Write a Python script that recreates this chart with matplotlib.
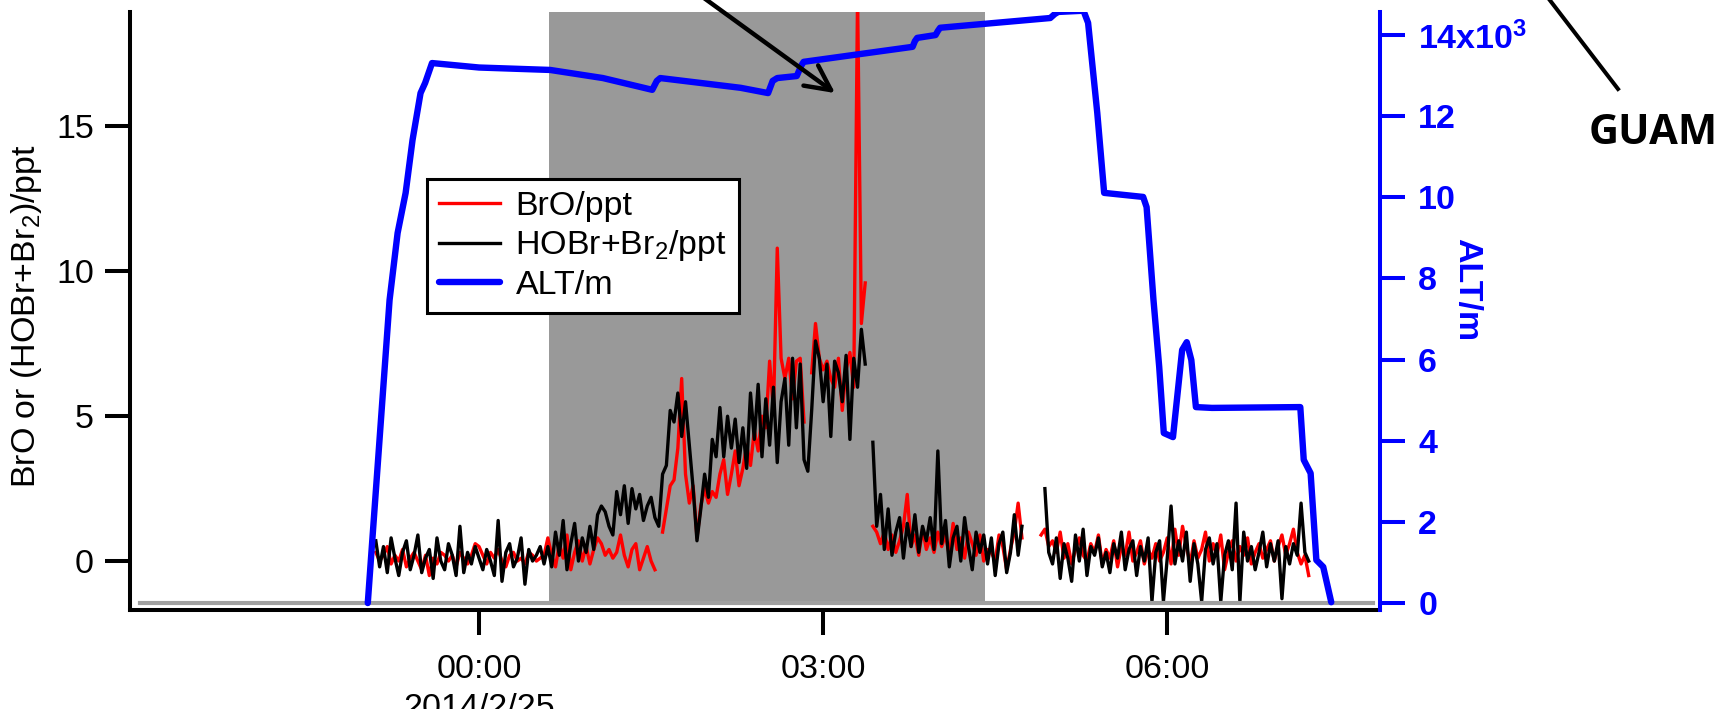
import numpy as np
import matplotlib.pyplot as plt
from matplotlib.lines import Line2D

plt.rcParams['font.family'] = ['Liberation Sans', 'DejaVu Sans']
plt.rcParams['mathtext.fontset'] = 'custom'
plt.rcParams['mathtext.rm'] = 'Liberation Sans'
plt.rcParams['mathtext.bf'] = 'Liberation Sans:bold'
plt.rcParams['mathtext.default'] = 'regular'

nan = np.nan

# mereni po 2 minutach, start 23:06 (2014/2/24), cas v minutach od 00:00
t_start_min = -54
dt_min = 2

bro = [0.3, 0.0, 0.2, 0.5, -0.1, 0.2, 0.0, 0.4, -0.2, 0.1, 0.3, 0.0, -0.3, 0.2, -0.5,
       0.1, -0.1, 0.3, 0.2, 0.0, 0.2, -0.2, 0.3, 0.1, -0.1, 0.2, 0.6,
       0.5, 0.2, -0.1, 0.3, 0.1, 0.4, 0.0, -0.2, 0.2, 0.3, 0.0, 0.1, -0.1, 0.3, 0.2, 0.0, 0.1, 0.2,
       0.8, 0.2, -0.2, 0.6, 0.1, 0.9, -0.3, 0.3, 0.7, 0.0, 0.5, -0.1, 0.4, 0.8, 0.6,
       0.2, 0.4, 0.1, 0.3, 0.9, 0.2, -0.2, 0.4, 0.6, -0.3, 0.1, 0.5, 0.0, -0.3,
       nan,
       1.0, 1.8, 2.6, 2.8, 3.9, 6.3, 3.0, 2.0, 2.6,
       0.8, 1.9, 2.5, 2.0, 2.4, 2.2, 3.0,
       3.5, 2.3, 3.0, 3.8, 2.6, 3.2, 4.0, 3.3, 4.5, 3.8, 5.0, 4.6, 6.9, 5.2,
       10.8, 7.0, 6.3, 7.0, 5.6, 6.9, 7.0, 4.8, nan, 6.5, 8.2,
       7.0, 6.6, 6.9, 6.3, 6.0, 7.0, 5.2, 6.6, 7.2, 6.0, 19.5, 8.2, 9.6, nan,
       1.2, 1.0, 0.6, 1.0, 0.4, 0.9, 0.3, 0.7, 1.2, 2.3, 0.5, 0.9, 0.2, 1.1, 0.4, 0.8, 0.3, 1.0,
       0.5, 0.9, 0.2, 1.3, 0.4, 0.8, 0.1, 1.0, 0.6, 0.2, 0.9, 0.0, 0.4,
       0.3, 0.0, 0.9, 0.5, -0.3, 0.4, 1.0, 2.0, 0.8,
       nan, nan, nan, nan,
       0.9,
       1.1, 0.5, 0.7, 0.3, 1.0, 0.1, 0.6, -0.1, 0.4, 0.8, 0.2, 0.0, 0.6, 0.3, 0.9,
       -0.1, 0.4, 0.1, 0.7, -0.2, 0.5, 0.2, 1.0, 0.0, 0.3, 0.7, -0.1, 0.4, 0.1,
       0.6, 0.0, 0.3, 0.8, -0.1, 1.1, 0.2, 1.2, 0.5, -0.1, 0.7, 0.1, 0.4, 1.0, 0.0,
       0.6, 0.2, 0.9, -0.3, 0.3, 0.7, 0.0, 0.5, 0.2, 0.8, -0.1, 0.3, 0.6, 0.1, 0.4,
       0.7, 0.0, 0.5, 0.9, 0.2, 0.6, 1.1, 0.3, -0.1, 0.2, -0.5]

hobr = [0.7, -0.2, 0.5, -0.4, 0.8, 0.1, -0.5, 0.3, 0.7, -0.3, 0.2, 0.9, -0.4, 0.1, 0.4,
        -0.6, 0.8, 0.0, -0.3, 0.6, 0.2, -0.5, 1.2, -0.4, 0.3, -0.1, 0.5,
        0.1, -0.3, 0.4, 0.0, -0.5, 1.4, -0.7, 0.3, 0.6, -0.2, 0.1, 0.8, -0.8, 0.4, 0.0, 0.2, 0.5, -0.1,
        0.5, -0.2, 1.0, 0.2, 1.4, -0.3, 0.6, 1.3, 0.0, 0.8,
        0.3, 1.2, 0.4, 1.6, 1.9, 1.7, 1.2, 0.9, 2.4,
        1.6, 2.6, 1.3, 2.5, 1.8, 2.3, 1.4, 1.9, 2.2, 1.5,
        1.2, 3.0, 3.3, 5.2, 4.8, 5.8, 4.3, 5.5, 4.0, 2.5,
        0.7, 1.8, 3.0, 2.2, 4.2, 3.6, 5.3,
        3.6, 5.0, 3.9, 4.9, 3.4, 4.6, 3.2, 5.8, 4.2, 6.1, 3.6, 5.6, 4.0, 6.0,
        3.4, 5.5, 6.3, 4.0, 7.0, 4.6, 6.8, 3.5, 3.1, 5.2, 7.6,
        7.0, 5.5, 6.8, 4.3, 6.9, 6.5, 5.5, 7.1, 4.2, 7.0, 6.0, 8.0, 6.8,
        nan,
        4.1, 1.2, 2.3, 0.4, 1.8, 0.2, 1.0, 1.5, 0.1, 1.3, 0.5, 1.6, 0.3, 1.2, 0.7, 1.5, 0.4, 3.8,
        0.6, 1.4, -0.2, 0.8, 1.2, 0.0, 1.5, 0.5, -0.3, 1.0, 0.3, 0.9, -0.1,
        0.8, -0.5, 0.6, 1.0, -0.4, 0.3, 1.6, 0.2, 1.2,
        nan, nan, nan, nan, nan,
        2.5,
        0.3, -0.1, 0.8, -0.6, 0.6, 0.1, -0.7, 0.9, 0.0, 1.1, -0.5, 0.5, 0.2, 0.8,
        -0.2, 0.3, -0.4, 0.6, 0.1, 1.0, -0.3, 0.4, 0.7, -0.5, 0.5, 0.0, 0.8, -1.4,
        0.3, 0.7, -1.4, 0.1, 1.9, -0.1, 0.7, 0.0, 1.0, -0.7, 0.6, -0.1, -1.4, 0.4, 0.8,
        -0.1, 0.6, -1.4, 0.2, 0.7, -0.3, 2.0, -1.4, 1.0, 0.0, 0.5, -0.3, 0.3, 1.0, -0.2,
        0.6, 0.0, 0.7, -1.3, 0.5, -0.1, 0.6, 0.2, 2.0, 0.3, 0.0]

# vyska letu (hodiny od 00:00, metry)
alt_t = [-0.97, -0.78, -0.71, -0.64, -0.58, -0.51, -0.47, -0.41, 0.0, 0.62, 1.08, 1.51,
         1.55, 1.58, 2.28, 2.52, 2.56, 2.60, 2.77, 2.81, 2.83, 3.78, 3.80, 3.82, 3.98,
         4.00, 4.02, 4.98, 5.02, 5.05, 5.27, 5.31, 5.39, 5.45, 5.79, 5.82, 5.88, 5.93,
         5.97, 6.05, 6.13, 6.17, 6.21, 6.25, 6.39, 7.16, 7.19, 7.25, 7.30, 7.36, 7.43]
alt_m = [0, 7470, 9120, 10110, 11410, 12570, 12820, 13310, 13200, 13140, 12940, 12650,
         12870, 12940, 12700, 12570, 12870, 12940, 12990, 13250, 13340, 13710, 13850, 13930, 14000,
         14100, 14180, 14420, 14520, 14570, 14600, 14300, 12080, 10110, 10010, 9760, 7470, 5820,
         4190, 4090, 6240, 6430, 5990, 4830, 4810, 4830, 3530, 3200, 1060, 890, 20]

shade_start, shade_end = 0.61, 4.41

x_ticks = [0, 3, 6]
x_ticklabels = ['00:00\n2014/2/25', '03:00', '06:00']
left_ticks = [0, 5, 10, 15]
alt_ticks = [0, 2000, 4000, 6000, 8000, 10000, 12000, 14000]
alt_ticklabels = ['0', '2', '4', '6', '8', '10', '12', '14x10$^{3}$']

t_hours = (t_start_min + dt_min * np.arange(len(bro))) / 60.0

fs = 24.5

fig = plt.figure(figsize=(17.22, 7.09), dpi=100)
ax = fig.add_axes([0.0755, 0.1396, 0.7259, 0.8434])

ax.axvspan(shade_start, shade_end, ymin=0.015, ymax=1.0, color='#999999', lw=0, zorder=0)
l_bro, = ax.plot(t_hours, bro, color='#ff0000', lw=2.4, label='BrO/ppt')
l_hobr, = ax.plot(t_hours, hobr, color='black', lw=2.4, label='HOBr+Br$_2$/ppt')

ax.set_xlim(-3.043, 7.855)
ax.set_ylim(-1.69, 18.95)
ax.set_xticks(x_ticks)
ax.set_xticklabels(x_ticklabels, linespacing=1.3)
ax.set_yticks(left_ticks)
ax.spines['top'].set_visible(False)
ax.spines['right'].set_visible(False)
for s in ['left', 'bottom']:
    ax.spines[s].set_linewidth(2.9)
ax.tick_params(axis='both', direction='out', length=18, width=2.9, labelsize=fs)
ax.tick_params(axis='x', pad=14)
ax.tick_params(axis='y', pad=8)
ax.set_ylabel('BrO or (HOBr+Br$_2$)/ppt', fontsize=fs, va='center')
ax.yaxis.set_label_coords(-0.083, 0.491)

ax2 = ax.twinx()
ax2.axhline(0, xmin=0.008, xmax=0.994, color='#a0a0a0', lw=3, zorder=1)
l_alt, = ax2.plot(alt_t, alt_m, color='#0000ff', lw=4.6, label='ALT/m', zorder=3,
                  solid_joinstyle='round', solid_capstyle='round')
ax2.set_ylim(-172, 14567)
ax2.set_yticks(alt_ticks)
ax2.set_yticklabels(alt_ticklabels, fontweight='bold')
for s in ['left', 'top', 'bottom']:
    ax2.spines[s].set_visible(False)
ax2.spines['right'].set_color('#0000ff')
ax2.spines['right'].set_linewidth(2.9)
ax2.tick_params(axis='y', direction='out', length=18, width=2.9, labelsize=fs,
                colors='#0000ff', pad=9.5)
ax2.set_ylabel('ALT/m', fontsize=fs, fontweight='bold', color='#0000ff',
               rotation=270, va='center', ha='center')
ax2.yaxis.set_label_coords(1.069, 0.536)

leg = ax2.legend([l_bro, l_hobr, l_alt], ['BrO/ppt', 'HOBr+Br$_2$/ppt', 'ALT/m'],
                 loc='upper left', bbox_to_anchor=(0.2376, 0.7212), borderaxespad=0,
                 fancybox=False, framealpha=1, edgecolor='black', fontsize=24.5,
                 labelspacing=0.2, handlelength=1.8, handletextpad=0.45, borderpad=0.35)
leg.get_frame().set_linewidth(2.2)

# sipka ze shora
ax2.annotate('', xy=(3.104, 12570), xytext=(0.4024, 1.0141), textcoords='figure fraction',
             arrowprops=dict(arrowstyle='->,head_length=0.9,head_width=0.45', lw=3.2,
                             color='black', shrinkA=0, shrinkB=0, mutation_scale=20),
             annotation_clip=False)

fig.add_artist(Line2D([0.8955, 0.9396], [1.0141, 0.8745], transform=fig.transFigure,
                      color='black', lw=2.9))
fig.text(0.96, 0.8124, 'GUAM', family='Open Sans', fontweight='bold', fontsize=30,
         ha='center', va='center')

fig.savefig('out.png', dpi=100)
